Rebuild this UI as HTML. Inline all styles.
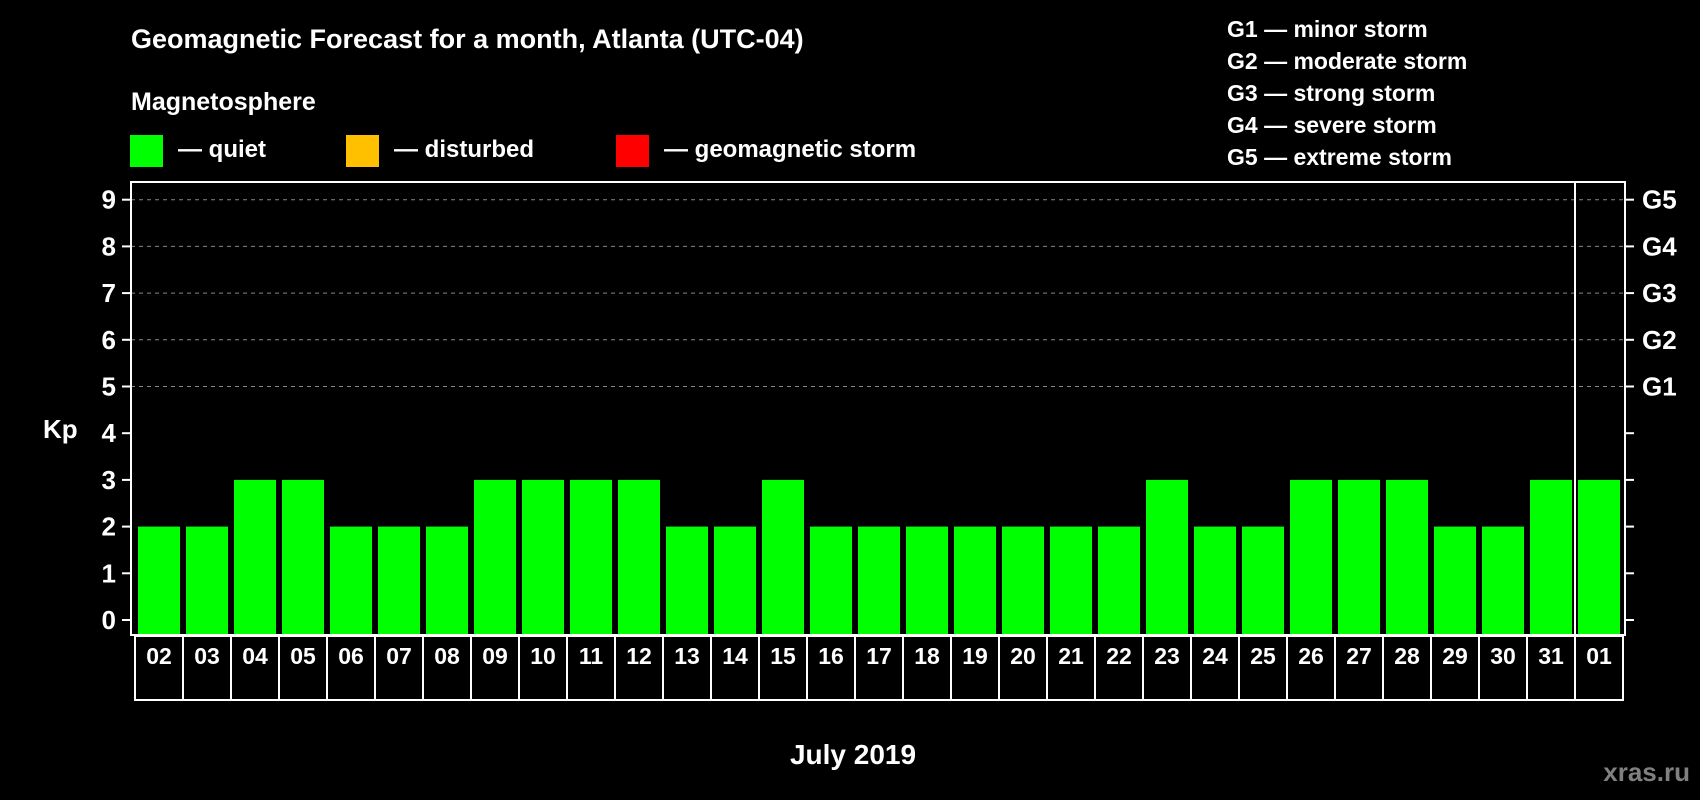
<!DOCTYPE html>
<html><head><meta charset="utf-8"><style>
html,body{margin:0;padding:0;background:#000;}
svg{display:block;font-family:"Liberation Sans",Arial,sans-serif;font-weight:bold;}
</style></head><body>
<svg id="chart" width="1700" height="800" viewBox="0 0 1700 800">
<rect width="1700" height="800" fill="#000"/>
<text x="131" y="48" font-size="27" fill="#fff">Geomagnetic Forecast for a month, Atlanta (UTC-04)</text>
<text x="131" y="110" font-size="25" fill="#fff">Magnetosphere</text>
<g><rect x="130" y="135" width="33" height="32" fill="#00ff00"/><text x="178" y="157" font-size="24" fill="#fff">— quiet</text></g>
<g><rect x="346" y="135" width="33" height="32" fill="#ffc000"/><text x="394" y="157" font-size="24" fill="#fff">— disturbed</text></g>
<g><rect x="616" y="135" width="33" height="32" fill="#ff0000"/><text x="664" y="157" font-size="24" fill="#fff">— geomagnetic storm</text></g>
<g font-size="23" fill="#fff">
<text x="1227" y="37">G1 — minor storm</text>
<text x="1227" y="69">G2 — moderate storm</text>
<text x="1227" y="101">G3 — strong storm</text>
<text x="1227" y="133">G4 — severe storm</text>
<text x="1227" y="165">G5 — extreme storm</text>
</g>
<text x="43" y="438" font-size="26" fill="#fff">Kp</text>
<text x="853" y="764" font-size="28" fill="#fff" text-anchor="middle">July 2019</text>
<text x="1690" y="781" font-size="26" fill="#808080" text-anchor="end">xras.ru</text>
<g id="plot"></g>
</svg>
<script>
const days = ["02","03","04","05","06","07","08","09","10","11","12","13","14","15","16","17","18","19","20","21","22","23","24","25","26","27","28","29","30","31","01"];
const kpValues = [2,2,3,3,2,2,2,3,3,3,3,2,2,3,2,2,2,2,2,2,2,3,2,2,3,3,3,2,2,3,3];
const yTicks = [0,1,2,3,4,5,6,7,8,9];
const gLabels = ["G1","G2","G3","G4","G5"];
const gLevels = [5,6,7,8,9];

(function(){
const NS="http://www.w3.org/2000/svg";
const plot=document.getElementById('plot');
const pLeft=131,pRight=1625,pTop=182,pBottom=635,y0=620,unit=46.7;
const pitch=48,firstBar=138,barW=42;
function yScale(v){return y0-v*unit;}
function xScale(i){return firstBar+i*pitch;}
function mk(tag,attrs){const e=document.createElementNS(NS,tag);for(const k in attrs)e.setAttribute(k,attrs[k]);plot.appendChild(e);return e;}

gLevels.forEach(v=>{
  const g=mk('line',{x1:pLeft,x2:pRight,y1:yScale(v),y2:yScale(v),stroke:'#888','stroke-width':1,'stroke-dasharray':'4,4'});
  
  
});
yTicks.forEach(v=>{
  const t=mk('line',{x1:122,x2:pLeft,y1:yScale(v),y2:yScale(v),stroke:'#fff','stroke-width':2});
  
  
  const t2=mk('line',{x1:pRight,x2:1634,y1:yScale(v),y2:yScale(v),stroke:'#fff','stroke-width':2});
  
  
  const l=mk('text',{x:116,y:yScale(v)+9,'font-size':26,fill:'#fff','text-anchor':'end'});
  l.textContent=v;
  
  
});
gLevels.forEach((v,i)=>{
  const l=mk('text',{x:1642,y:yScale(v)+9,'font-size':26,fill:'#fff'});
  l.textContent=gLabels[i];
  
  
});
kpValues.forEach((v,i)=>{
  const c=v>=5?'#ff0000':(v>=4?'#ffc000':'#00ff00');
  const b=mk('rect',{x:xScale(i),y:yScale(v),width:barW,height:pBottom-yScale(v),fill:c});
  
  
});
days.forEach((d,i)=>{
  const x=xScale(i)-3;
  const r=mk('rect',{x:x,y:636,width:pitch,height:64,fill:'none',stroke:'#fff','stroke-width':2});
  
  
  const t=mk('text',{x:x+pitch/2,y:664,'font-size':23,fill:'#fff','text-anchor':'middle'});
  t.textContent=d;
  
  
});
const fr=mk('rect',{x:pLeft,y:pTop,width:pRight-pLeft,height:pBottom-pTop,fill:'none',stroke:'#fff','stroke-width':2});


const dv=mk('line',{x1:xScale(days.length-1)-3,x2:xScale(days.length-1)-3,y1:pTop,y2:pBottom,stroke:'#fff','stroke-width':2});


})();
</script>
</body></html>
